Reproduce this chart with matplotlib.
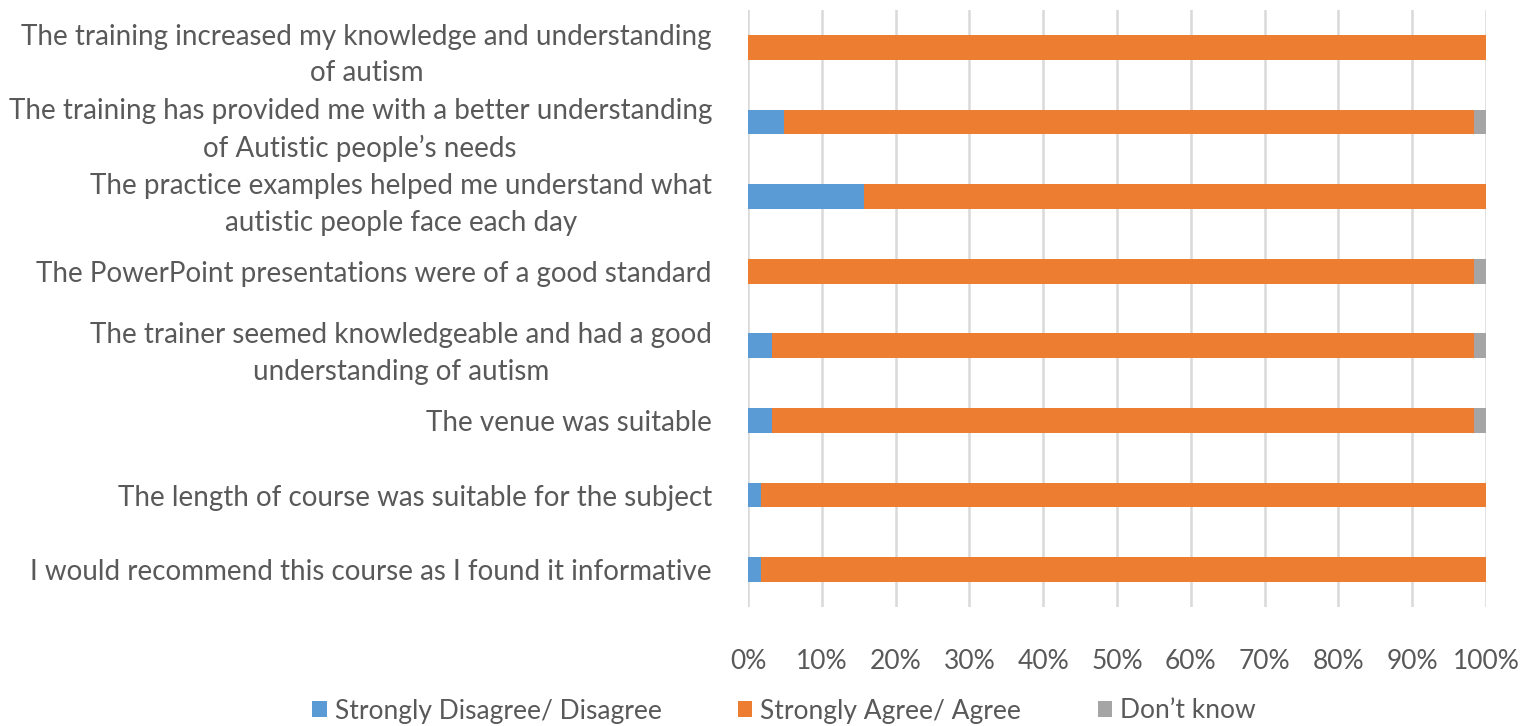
#!/usr/bin/env python3
"""Stacked horizontal bars: training feedback survey responses."""

import matplotlib
matplotlib.use("Agg")
import matplotlib.pyplot as plt
import matplotlib.ticker as ticker
import numpy as np

# statements, top to bottom as shown
statements = [
    "The training increased my knowledge and understanding\nof autism",
    "The training has provided me with a better understanding\nof Autistic people\u2019s needs",
    "The practice examples helped me understand what\nautistic people face each day",
    "The PowerPoint presentations were of a good standard",
    "The trainer seemed knowledgeable and had a good\nunderstanding of autism",
    "The venue was suitable",
    "The length of course was suitable for the subject",
    "I would recommend this course as I found it informative",
]

# percentages
disagree = [0.0, 4.9, 15.7, 0.0, 3.2, 3.2, 1.7, 1.7]
agree = [100.0, 93.5, 84.3, 98.4, 95.2, 95.2, 98.3, 98.3]
dont_know = [0.0, 1.6, 0.0, 1.6, 1.6, 1.6, 0.0, 0.0]

series_names = ["Strongly Disagree/ Disagree", "Strongly Agree/ Agree", "Don\u2019t know"]
colors = ["#5B9BD5", "#ED7D31", "#A5A5A5"]
text_color = "#595959"

plt.rcParams["font.family"] = ["Lato", "DejaVu Sans"]

fig = plt.figure(figsize=(15.36, 7.26), dpi=100)
ax = fig.add_axes([748 / 1536, 1 - 607 / 726, 738 / 1536, 597 / 726])

y = np.arange(len(statements))
left = np.zeros(len(statements))
for vals, name, col in zip([disagree, agree, dont_know], series_names, colors):
    ax.barh(y, vals, left=left, height=0.33, color=col, label=name, zorder=3)
    left += np.array(vals)

ax.set_xlim(0, 100)
ax.set_ylim(len(statements) - 0.5, -0.5)
ax.set_yticks(y)
ax.set_yticklabels(statements, fontsize=20, color=text_color,
                   multialignment="center", linespacing=1.5)
ax.set_xticks(np.arange(0, 101, 10))
ax.xaxis.set_major_formatter(ticker.FuncFormatter(lambda v, _: f"{int(v)}%"))
ax.tick_params(axis="x", labelsize=19, labelcolor=text_color, length=0, pad=30)
ax.tick_params(axis="y", length=0, pad=26)

ax.grid(axis="x", color="#D9D9D9", linewidth=1.8, zorder=0)
for s in ax.spines.values():
    s.set_visible(False)

fig.legend(loc="center", bbox_to_anchor=(784 / 1536, 1 - 711 / 726), ncol=3,
           frameon=False, fontsize=19, labelcolor=text_color,
           handlelength=0.55, handleheight=0.55, handletextpad=0.3,
           columnspacing=2.9)

fig.savefig("out.png", dpi=100)
